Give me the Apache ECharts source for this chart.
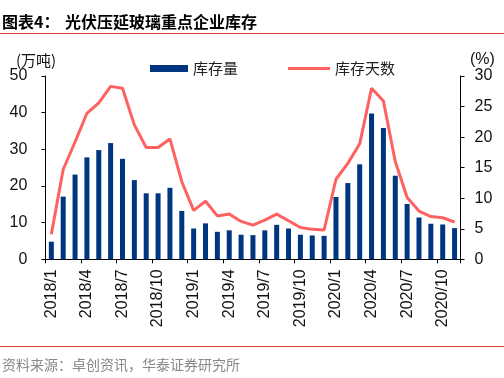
<!DOCTYPE html>
<html>
<head>
<meta charset="utf-8">
<script src="https://cdn.jsdelivr.net/npm/echarts@6/dist/echarts.min.js"></script>
<style>
html,body{margin:0;padding:0;background:#fff;}
#chart{width:504px;height:378px;}
</style>
</head>
<body>
<div id="chart"></div>
<script>
var categories = ['2018/1','2018/2','2018/3','2018/4','2018/5','2018/6','2018/7','2018/8','2018/9','2018/10','2018/11','2018/12',
  '2019/1','2019/2','2019/3','2019/4','2019/5','2019/6','2019/7','2019/8','2019/9','2019/10','2019/11','2019/12',
  '2020/1','2020/2','2020/3','2020/4','2020/5','2020/6','2020/7','2020/8','2020/9','2020/10','2020/11'];
var inventory = [4.8,17.1,23.1,27.8,29.8,31.7,27.4,21.6,18.0,18.0,19.5,13.2,
  8.4,9.8,7.5,7.9,6.7,6.6,7.9,9.4,8.4,6.7,6.5,6.4,
  17.0,20.8,25.9,39.8,35.8,22.8,15.1,11.4,9.7,9.5,8.5];
var inventoryDays = [4.1,14.7,19.2,23.9,25.6,28.3,28.0,22.0,18.3,18.3,19.7,12.7,
  8.0,9.5,7.1,7.4,6.2,5.6,6.4,7.4,6.3,5.2,4.9,4.8,
  13.1,15.7,18.9,28.0,25.9,16.0,10.1,7.9,7.0,6.8,6.1];
var leftTicks = {min:0, max:50, interval:10};
var rightTicks = {min:0, max:30, interval:5};

var chart = echarts.init(document.getElementById('chart'), null, {renderer:'canvas'});
var cjk = '"Noto Sans CJK SC", sans-serif';
var latin = '"Liberation Sans", Arial, sans-serif';
chart.setOption({
  animation:false,
  backgroundColor:'#fff',
  grid:{left:45.4, right:43.5, top:76, bottom:118.7, containLabel:false},
  legend:[
    {data:[{name:'库存量', icon:'rect'}], left:145, top:56, itemWidth:38, itemHeight:7, itemGap:10,
     textStyle:{fontFamily:cjk, fontSize:15, color:'#222'}},
    {data:[{name:'库存天数', icon:'rect'}], left:283, top:56, itemWidth:42, itemHeight:3, itemGap:10,
     textStyle:{fontFamily:cjk, fontSize:15, color:'#222'}}
  ],
  xAxis:{
    type:'category', data:categories, boundaryGap:true,
    axisLine:{lineStyle:{color:'#000', width:1}},
    axisTick:{show:true, interval:2, length:4, inside:false, lineStyle:{color:'#000'}},
    axisLabel:{interval:2, rotate:90, margin:10, fontFamily:latin, fontSize:16, color:'#111'},
    splitLine:{show:false}
  },
  yAxis:[
    {type:'value', min:leftTicks.min, max:leftTicks.max, interval:leftTicks.interval,
     axisLine:{show:true, lineStyle:{color:'#000'}},
     axisTick:{show:true, length:4, lineStyle:{color:'#000'}},
     axisLabel:{margin:18, fontFamily:latin, fontSize:16, color:'#111'},
     splitLine:{show:false}},
    {type:'value', min:rightTicks.min, max:rightTicks.max, interval:rightTicks.interval, position:'right',
     axisLine:{show:true, lineStyle:{color:'#000'}},
     axisTick:{show:true, length:4, lineStyle:{color:'#000'}},
     axisLabel:{margin:14, fontFamily:latin, fontSize:16, color:'#111'},
     splitLine:{show:false}}
  ],
  series:[
    {name:'库存量', type:'bar', yAxisIndex:0, data:inventory, barWidth:5,
     itemStyle:{color:'#003580'}},
    {name:'库存天数', type:'line', yAxisIndex:1, data:inventoryDays, symbol:'none', showSymbol:false,
     lineStyle:{color:'#ff6161', width:3}, itemStyle:{color:'#ff6161'}}
  ],
  graphic:[
    {type:'text', left:2, top:14, style:{text:'图表4：', font:'bold 16px '+cjk, fill:'#000'}},
    {type:'text', left:65, top:14, style:{text:'光伏压延玻璃重点企业库存', font:'bold 16px '+cjk, fill:'#000'}},
    {type:'rect', shape:{x:0, y:33, width:504, height:1}, style:{fill:'#e0402f'}},
    {type:'text', left:16, top:53, style:{text:'(万吨)', font:'15px '+cjk, fill:'#111'}},
    {type:'text', left:470, top:52, style:{text:'(%)', font:'16px '+latin, fill:'#111'}},
    {type:'rect', shape:{x:0, y:346, width:504, height:1}, style:{fill:'#e0402f'}},
    {type:'text', left:2, top:358, style:{text:'资料来源：卓创资讯，华泰证券研究所', font:'14px '+cjk, fill:'#888'}}
  ]
});
</script>
</body>
</html>
